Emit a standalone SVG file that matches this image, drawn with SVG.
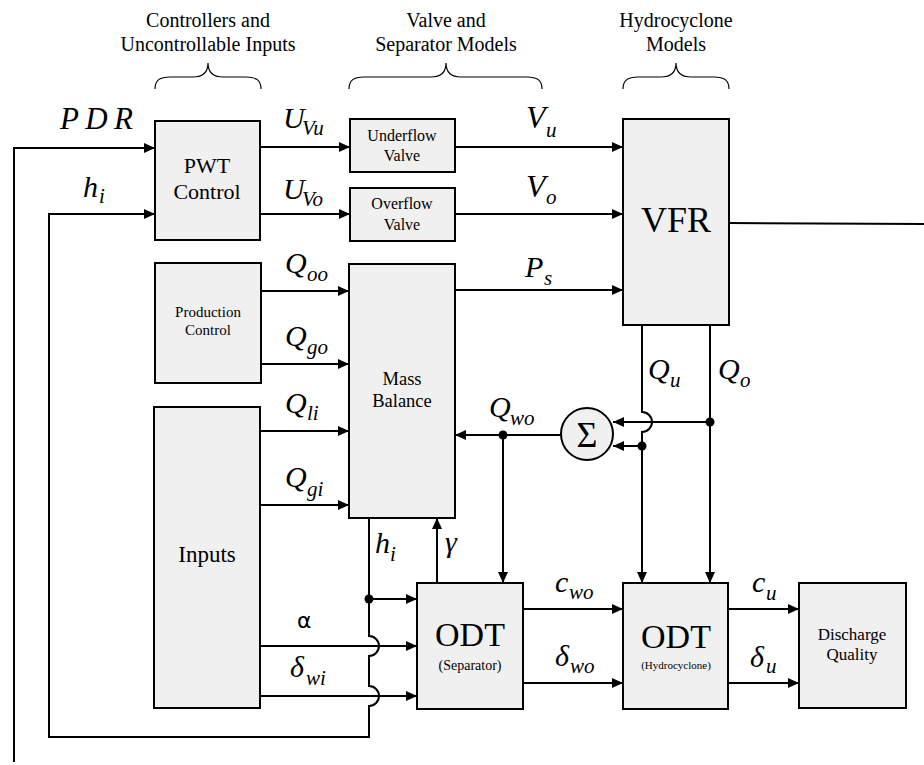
<svg xmlns="http://www.w3.org/2000/svg" width="924" height="765" viewBox="0 0 924 765">
<defs>
<marker id="ah" markerWidth="12" markerHeight="10" refX="11" refY="5" orient="auto" markerUnits="userSpaceOnUse"><path d="M0,0 L11,5 L0,10 z" fill="#000"/></marker>
</defs>
<g id="headers">
<text font-family="Liberation Serif" font-size="20" text-anchor="middle" x="208" y="27">Controllers and</text>
<text font-family="Liberation Serif" font-size="20" text-anchor="middle" x="208" y="51">Uncontrollable Inputs</text>
<text font-family="Liberation Serif" font-size="20" text-anchor="middle" x="446" y="27">Valve and</text>
<text font-family="Liberation Serif" font-size="20" text-anchor="middle" x="446" y="51">Separator Models</text>
<text font-family="Liberation Serif" font-size="20" text-anchor="middle" x="676" y="27">Hydrocyclone</text>
<text font-family="Liberation Serif" font-size="20" text-anchor="middle" x="676" y="51">Models</text>
<g fill="none" stroke="#000" stroke-width="1.2">
<path d="M155,89 C155,80 160,77 170,77 L193,77 C203,77 208,72 208,63 C208,72 213,77 223,77 L246,77 C256,77 261,80 261,89"/>
<path d="M349,89 C349,80 354,77 364,77 L431,77 C441,77 446,72 446,63 C446,72 451,77 461,77 L527,77 C537,77 542,80 542,89"/>
<path d="M623,89 C623,80 628,77 638,77 L661,77 C671,77 676,72 676,63 C676,72 681,77 691,77 L714,77 C724,77 729,80 729,89"/>
</g>
</g>
<g id="connectors">
<g fill="none" stroke="#000" stroke-width="2" marker-end="url(#ah)">
<path d="M14,762 L14,148 L155,148"/>
<path d="M369,518 L369,636 A10,10 0 0 1 369,656 L369,686 A10,10 0 0 1 369,706 L369,737 L49,737 L49,214 L155,214"/>
<path d="M369,599 L417,599"/>
<path d="M260,646 L417,646"/>
<path d="M260,696 L417,696"/>
<path d="M437,583 L437,518"/>
<path d="M260,147 L350,147"/>
<path d="M455,147 L623,147"/>
<path d="M260,214 L350,214"/>
<path d="M455,214 L623,214"/>
<path d="M261,291 L349,291"/>
<path d="M261,364 L349,364"/>
<path d="M260,431 L349,431"/>
<path d="M260,505 L349,505"/>
<path d="M455,290 L623,290"/>
<path d="M642,325 L642,412 A10,10 0 0 1 642,432 L642,583"/>
<path d="M710,325 L710,583"/>
<path d="M710,422 L613,422"/>
<path d="M642,446 L613,446"/>
<path d="M561,435 L455,435"/>
<path d="M503,435 L503,583"/>
<path d="M523,609 L623,609"/>
<path d="M523,683 L623,683"/>
<path d="M728,609 L799,609"/>
<path d="M728,683 L799,683"/>
</g>
<path d="M729,223 L924,224" fill="none" stroke="#000" stroke-width="2"/>
<g fill="#000">
<circle cx="369" cy="599" r="4.5"/>
<circle cx="710" cy="422" r="4.5"/>
<circle cx="642" cy="446" r="4.5"/>
<circle cx="503" cy="435" r="4.5"/>
</g>
</g>
<g id="pwt">
<rect fill="#f0f0f0" stroke="#000" stroke-width="2" x="155" y="121" width="105" height="119"/>
<text font-family="Liberation Serif" font-size="22" text-anchor="middle" x="207" y="173">PWT</text>
<text font-family="Liberation Serif" font-size="22" text-anchor="middle" x="207" y="199">Control</text>
</g>
<g id="underflow">
<rect fill="#f0f0f0" stroke="#000" stroke-width="2" x="350" y="119" width="105" height="53"/>
<text font-family="Liberation Serif" font-size="16" text-anchor="middle" x="402" y="141">Underflow</text>
<text font-family="Liberation Serif" font-size="16" text-anchor="middle" x="402" y="161">Valve</text>
</g>
<g id="overflow">
<rect fill="#f0f0f0" stroke="#000" stroke-width="2" x="350" y="188" width="105" height="53"/>
<text font-family="Liberation Serif" font-size="16" text-anchor="middle" x="402" y="209">Overflow</text>
<text font-family="Liberation Serif" font-size="16" text-anchor="middle" x="402" y="230">Valve</text>
</g>
<g id="vfr">
<rect fill="#f0f0f0" stroke="#000" stroke-width="2" x="623" y="119" width="106" height="206"/>
<text font-family="Liberation Serif" font-size="36" text-anchor="middle" x="676" y="232">VFR</text>
</g>
<g id="production">
<rect fill="#f0f0f0" stroke="#000" stroke-width="2" x="155" y="263" width="106" height="120"/>
<text font-family="Liberation Serif" font-size="15" text-anchor="middle" x="208" y="317">Production</text>
<text font-family="Liberation Serif" font-size="15" text-anchor="middle" x="208" y="335">Control</text>
</g>
<g id="mass">
<rect fill="#f0f0f0" stroke="#000" stroke-width="2" x="349" y="264" width="106" height="254"/>
<text font-family="Liberation Serif" font-size="18.5" text-anchor="middle" x="402" y="385">Mass</text>
<text font-family="Liberation Serif" font-size="18.5" text-anchor="middle" x="402" y="407">Balance</text>
</g>
<g id="inputs">
<rect fill="#f0f0f0" stroke="#000" stroke-width="2" x="154" y="407" width="106" height="301"/>
<text font-family="Liberation Serif" font-size="23" text-anchor="middle" x="207" y="562">Inputs</text>
</g>
<g id="sum">
<circle cx="587" cy="434" r="26" fill="#f0f0f0" stroke="#000" stroke-width="2"/>
<text font-family="Liberation Serif" font-size="36" text-anchor="middle" x="587" y="447">&#931;</text>
</g>
<g id="odt-sep">
<rect fill="#f0f0f0" stroke="#000" stroke-width="2" x="417" y="583" width="106" height="126"/>
<text font-family="Liberation Serif" font-size="34" text-anchor="middle" x="470" y="646">ODT</text>
<text font-family="Liberation Serif" font-size="14" text-anchor="middle" x="470" y="670">(Separator)</text>
</g>
<g id="odt-hyd">
<rect fill="#f0f0f0" stroke="#000" stroke-width="2" x="623" y="583" width="105" height="126"/>
<text font-family="Liberation Serif" font-size="34" text-anchor="middle" x="676" y="648">ODT</text>
<text font-family="Liberation Serif" font-size="11" text-anchor="middle" x="676" y="669">(Hydrocyclone)</text>
</g>
<g id="discharge">
<rect fill="#f0f0f0" stroke="#000" stroke-width="2" x="799" y="583" width="107" height="125"/>
<text font-family="Liberation Serif" font-size="17" text-anchor="middle" x="852" y="640">Discharge</text>
<text font-family="Liberation Serif" font-size="17" text-anchor="middle" x="852" y="660">Quality</text>
</g>
<g id="labels">
<text font-family="Liberation Serif" font-style="italic" font-size="31" x="60" y="129" textLength="73">PDR</text>
<text font-family="Liberation Serif" font-style="italic" font-size="30" x="83" y="197">h</text>
<text font-family="Liberation Serif" font-style="italic" font-size="21" x="99" y="203">i</text>
<text font-family="Liberation Serif" font-style="italic" font-size="30" x="283" y="128">U</text>
<text font-family="Liberation Serif" font-style="italic" font-size="21" x="302" y="135">Vu</text>
<text font-family="Liberation Serif" font-style="italic" font-size="30" x="283" y="199">U</text>
<text font-family="Liberation Serif" font-style="italic" font-size="21" x="302" y="206">Vo</text>
<text font-family="Liberation Serif" font-style="italic" font-size="32" x="526" y="128">V</text>
<text font-family="Liberation Serif" font-style="italic" font-size="21" x="546" y="137">u</text>
<text font-family="Liberation Serif" font-style="italic" font-size="32" x="526" y="197">V</text>
<text font-family="Liberation Serif" font-style="italic" font-size="21" x="546" y="204">o</text>
<text font-family="Liberation Serif" font-style="italic" font-size="30" x="525" y="277">P</text>
<text font-family="Liberation Serif" font-style="italic" font-size="21" x="544" y="285">s</text>
<text font-family="Liberation Serif" font-style="italic" font-size="30" x="285" y="273">Q</text>
<text font-family="Liberation Serif" font-style="italic" font-size="21" x="307" y="281">oo</text>
<text font-family="Liberation Serif" font-style="italic" font-size="30" x="285" y="346">Q</text>
<text font-family="Liberation Serif" font-style="italic" font-size="21" x="307" y="354">go</text>
<text font-family="Liberation Serif" font-style="italic" font-size="30" x="285" y="413">Q</text>
<text font-family="Liberation Serif" font-style="italic" font-size="21" x="307" y="420">li</text>
<text font-family="Liberation Serif" font-style="italic" font-size="30" x="285" y="487">Q</text>
<text font-family="Liberation Serif" font-style="italic" font-size="21" x="307" y="496">gi</text>
<text font-family="Liberation Serif" font-style="italic" font-size="30" x="648" y="379">Q</text>
<text font-family="Liberation Serif" font-style="italic" font-size="21" x="670" y="387">u</text>
<text font-family="Liberation Serif" font-style="italic" font-size="30" x="718" y="379">Q</text>
<text font-family="Liberation Serif" font-style="italic" font-size="21" x="740" y="387">o</text>
<text font-family="Liberation Serif" font-style="italic" font-size="30" x="489" y="417">Q</text>
<text font-family="Liberation Serif" font-style="italic" font-size="21" x="510" y="425">wo</text>
<text font-family="Liberation Serif" font-style="italic" font-size="30" x="375" y="553">h</text>
<text font-family="Liberation Serif" font-style="italic" font-size="21" x="390" y="561">i</text>
<text font-family="Liberation Serif" font-style="italic" font-size="30" x="445" y="552">&#947;</text>
<text font-family="Liberation Serif" font-style="italic" font-size="30" x="555" y="592">c</text>
<text font-family="Liberation Serif" font-style="italic" font-size="21" x="569" y="599">wo</text>
<text font-family="Liberation Serif" font-style="italic" font-size="30" x="555" y="666">&#948;</text>
<text font-family="Liberation Serif" font-style="italic" font-size="21" x="570" y="673">wo</text>
<text font-family="DejaVu Sans" font-size="22" x="297" y="628">&#945;</text>
<text font-family="Liberation Serif" font-style="italic" font-size="30" x="290" y="677">&#948;</text>
<text font-family="Liberation Serif" font-style="italic" font-size="21" x="306" y="685">wi</text>
<text font-family="Liberation Serif" font-style="italic" font-size="30" x="752" y="592">c</text>
<text font-family="Liberation Serif" font-style="italic" font-size="21" x="766" y="600">u</text>
<text font-family="Liberation Serif" font-style="italic" font-size="30" x="750" y="667">&#948;</text>
<text font-family="Liberation Serif" font-style="italic" font-size="21" x="766" y="673">u</text>
</g>
</svg>
